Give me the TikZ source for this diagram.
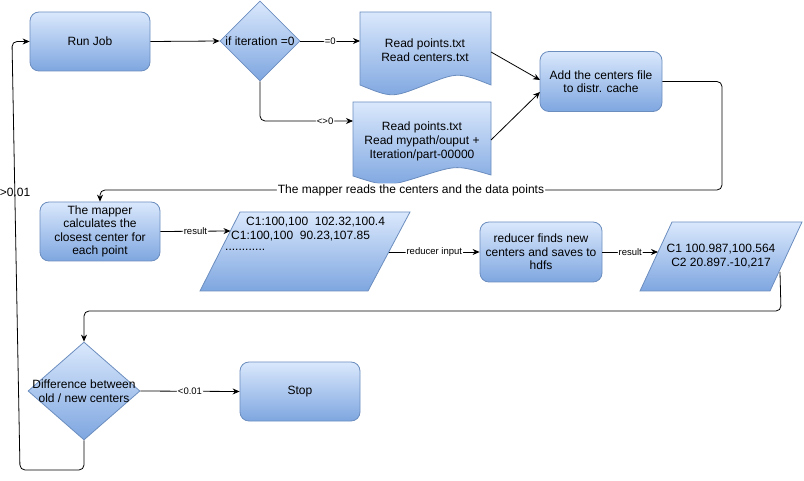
\documentclass[tikz,border=0pt]{standalone}
\usepackage{fontspec}
\setmainfont{Liberation Sans}
\usetikzlibrary{arrows.meta,shapes.geometric}
\definecolor{topc}{HTML}{DAE8FC}
\definecolor{botc}{HTML}{7EA6E0}
\definecolor{bord}{HTML}{6C8EBF}
\tikzset{
  shp/.style={draw=bord, line width=0.8pt, top color=topc, bottom color=botc},
  box/.style={shp, rectangle, rounded corners=9pt, minimum width=120pt, minimum height=59pt, align=center, font=\fontsize{12}{13.5}\selectfont, inner sep=0pt},
  dia/.style={shp, diamond, inner sep=0pt},
  txt/.style={align=center, font=\fontsize{12}{14}\selectfont, inner sep=0pt},
  lbl/.style={fill=white, font=\fontsize{9.5}{10}\selectfont, inner sep=1pt},
  arr/.style={draw, line width=0.8pt, -{Stealth[length=7pt,width=6pt]}, rounded corners=5pt},
}
\begin{document}
\begin{tikzpicture}[x=1pt,y=-1pt]
\useasboundingbox (0,0) rectangle (804,481);

% nodes
\node[box] (run) at (90,41.5) {Run Job};
\node[dia, minimum width=80pt, minimum height=80pt] (d1) at (260,41) {};
\node[txt] at (d1.center) {if iteration =0};

% document 1
\draw[shp] (360,12) -- (491,12) -- (491,85) .. controls (458,72) .. (425,85) .. controls (392,98) .. (360,85) -- cycle;
\node[txt] (doc1) at (425,50) {Read points.txt\\Read centers.txt};
\coordinate (doc1w) at (360,41);
\coordinate (doc1e) at (491,52);

% document 2
\draw[shp] (353,102) -- (491,102) -- (491,175) .. controls (457,165) .. (422,176) .. controls (387,187) .. (353,176) -- cycle;
\node[txt] (doc2) at (422,141) {Read points.txt\\Read mypath/ouput +\\Iteration/part-00000};
\coordinate (doc2w) at (353,121);
\coordinate (doc2e) at (491,140);

\node[box, minimum width=122pt, minimum height=60pt] (add) at (601,81.5) {Add the centers file\\to distr. cache};

\node[box] (map) at (100,231.5) {The mapper\\calculates the\\closest center for\\each point};

% parallelogram 1
\draw[shp] (240,212) -- (410,212) -- (368,291) -- (200,291) -- cycle;
\node[txt, anchor=west] (p1a) at (246,222) {C1:100,100\ \ 102.32,100.4};
\node[txt, anchor=west] (p1b) at (231,236) {C1:100,100\ \ 90.23,107.85};
\node[txt, anchor=west] (p1c) at (225,250) {............};
\coordinate (p1w) at (230.5,231);
\coordinate (p1e) at (389,252);

\node[box, minimum width=122pt, minimum height=60pt] (red) at (541,252) {reducer finds new\\centers and saves to\\hdfs};

% parallelogram 2
\draw[shp] (672,222) -- (802,222) -- (770,291) -- (640,291) -- cycle;
\node[txt] (p2) at (721,256) {C1 100.987,100.564\\C2 20.897.-10,217};
\coordinate (p2w) at (658,252);
\coordinate (p2e) at (780,272);

\node[dia, minimum width=112pt, minimum height=98pt] (d2) at (84,391) {};
\node[txt] at (d2.center) {Difference between\\old / new centers};

\node[box] (stop) at (300,391.5) {Stop};

% connectors
\draw[arr] (run.east) -- (d1.west);
\draw[arr] (d1.east) -- node[lbl] {=0} (doc1w);
\draw[arr] (d1.south) -- (260,121) -- node[lbl, pos=0.7] {<>0} (doc2w);
\draw[arr] (doc1e) -- (540,80);
\draw[arr] (doc2e) -- (540,92);
\draw[arr] (add.east) -- (722,81.5) -- (722,190) -- node[fill=white, font=\fontsize{12}{14}\selectfont, inner sep=1pt] {The mapper reads the centers and the data points} (100,190) -- (map.north);
\draw[arr] (map.east) -- node[lbl] {result} (p1w);
\draw[arr] (p1e) -- node[lbl] {reducer input} (red.west);
\draw[arr] (red.east) -- node[lbl] {result} (p2w);
\draw[arr] (p2e) -- (781,311) -- (84,311) -- (d2.north);
\draw[arr] (d2.east) -- node[lbl] {<0.01} (stop.west);
\draw[arr] (d2.south) -- (84,470) -- (20,470) -- (12,41.5) -- (run.west);
\node[font=\fontsize{12}{14}\selectfont, inner sep=0pt] (gt) at (15,192) {>0.01};
\end{tikzpicture}
\end{document}
